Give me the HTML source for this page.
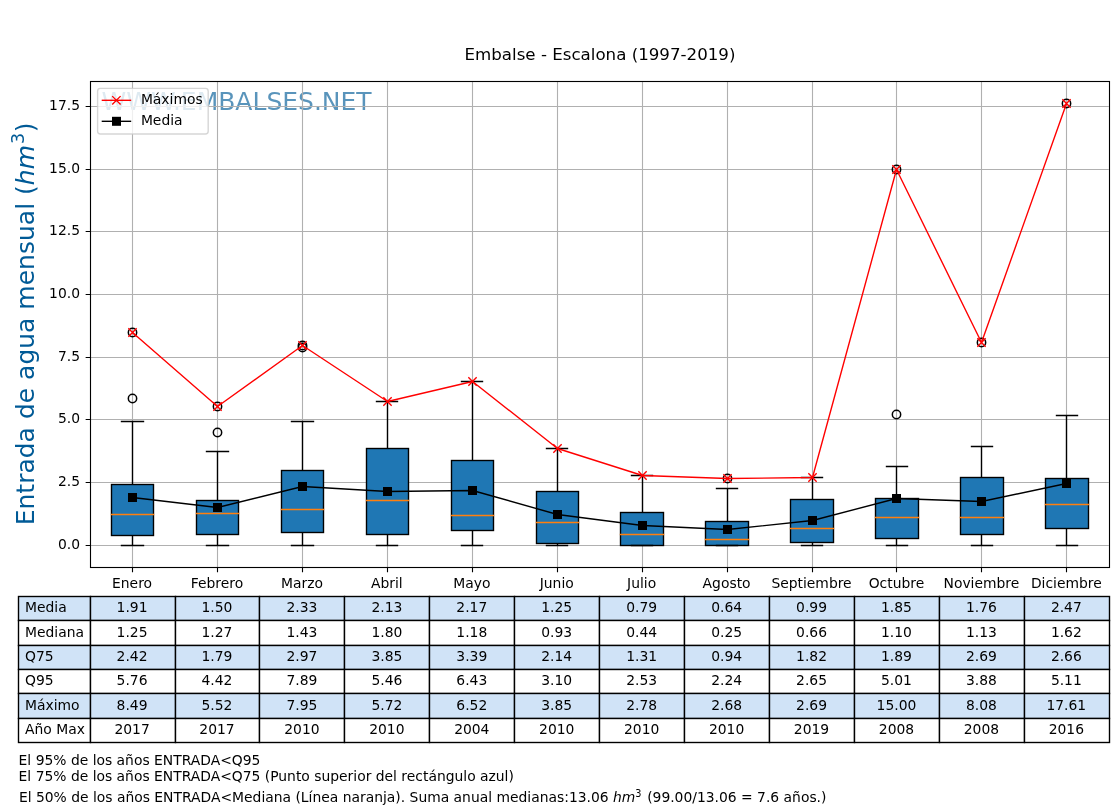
<!DOCTYPE html>
<html lang="es">
<head>
<meta charset="utf-8">
<title>Embalse - Escalona (1997-2019)</title>
<style>
html,body{margin:0;padding:0;background:#fff;}
body{width:1120px;height:810px;overflow:hidden;}
svg{display:block;will-change:transform;-webkit-font-smoothing:antialiased;}
text{white-space:pre;}
</style>
</head>
<body>
<svg width="1120" height="810" viewBox="0 0 1120 810" font-family='"DejaVu Sans", "Liberation Sans", sans-serif' font-size="13.89px" fill="#000">
<rect x="0" y="0" width="1120" height="810" fill="#fff"/>
<text x="101.6" y="109.9" font-size="25px" fill="#005a96" fill-opacity="0.65">WWW.EMBALSES.NET</text>
<path d="M132.5 81V567M217.5 81V567M302.5 81V567M387.5 81V567M472.5 81V567M557.5 81V567M642.5 81V567M727.5 81V567M812.5 81V567M896.5 81V567M981.5 81V567M1066.5 81V567M89.6 545.5H1108.8M89.6 482.5H1108.8M89.6 419.5H1108.8M89.6 357.5H1108.8M89.6 294.5H1108.8M89.6 231.5H1108.8M89.6 169.5H1108.8M89.6 106.5H1108.8" stroke="#b0b0b0" stroke-width="1.11" fill="none"/>
<rect x="111.5" y="484.5" width="42" height="51" fill="#1f77b4" stroke="#000" stroke-width="1.39"/>
<path d="M132.5 535.5V545.5M132.5 484.5V421.5" stroke="#000" stroke-width="1.39" fill="none"/>
<path d="M121.5 545.5H143.5M121.5 421.5H143.5" stroke="#000" stroke-width="1.39" fill="none" stroke-linecap="square"/>
<path d="M111.5 514.5H153.5" stroke="#ff7f0e" stroke-width="1.39" fill="none" stroke-linecap="square"/>
<circle cx="132.5" cy="398.5" r="4.17" fill="none" stroke="#000" stroke-width="1.5"/>
<circle cx="132.5" cy="332.5" r="4.17" fill="none" stroke="#000" stroke-width="1.5"/>
<rect x="196.5" y="500.5" width="42" height="34" fill="#1f77b4" stroke="#000" stroke-width="1.39"/>
<path d="M217.5 534.5V545.5M217.5 500.5V451.5" stroke="#000" stroke-width="1.39" fill="none"/>
<path d="M206.5 545.5H228.5M206.5 451.5H228.5" stroke="#000" stroke-width="1.39" fill="none" stroke-linecap="square"/>
<path d="M196.5 513.5H238.5" stroke="#ff7f0e" stroke-width="1.39" fill="none" stroke-linecap="square"/>
<circle cx="217.5" cy="432.5" r="4.17" fill="none" stroke="#000" stroke-width="1.5"/>
<circle cx="217.5" cy="406.5" r="4.17" fill="none" stroke="#000" stroke-width="1.5"/>
<rect x="281.5" y="470.5" width="42" height="62" fill="#1f77b4" stroke="#000" stroke-width="1.39"/>
<path d="M302.5 532.5V545.5M302.5 470.5V421.5" stroke="#000" stroke-width="1.39" fill="none"/>
<path d="M291.5 545.5H313.5M291.5 421.5H313.5" stroke="#000" stroke-width="1.39" fill="none" stroke-linecap="square"/>
<path d="M281.5 509.5H323.5" stroke="#ff7f0e" stroke-width="1.39" fill="none" stroke-linecap="square"/>
<circle cx="302.5" cy="347.5" r="4.17" fill="none" stroke="#000" stroke-width="1.5"/>
<circle cx="302.5" cy="345.5" r="4.17" fill="none" stroke="#000" stroke-width="1.5"/>
<rect x="366.5" y="448.5" width="42" height="86" fill="#1f77b4" stroke="#000" stroke-width="1.39"/>
<path d="M387.5 534.5V545.5M387.5 448.5V401.5" stroke="#000" stroke-width="1.39" fill="none"/>
<path d="M376.5 545.5H397.5M376.5 401.5H397.5" stroke="#000" stroke-width="1.39" fill="none" stroke-linecap="square"/>
<path d="M366.5 500.5H408.5" stroke="#ff7f0e" stroke-width="1.39" fill="none" stroke-linecap="square"/>
<rect x="451.5" y="460.5" width="42" height="70" fill="#1f77b4" stroke="#000" stroke-width="1.39"/>
<path d="M472.5 530.5V545.5M472.5 460.5V381.5" stroke="#000" stroke-width="1.39" fill="none"/>
<path d="M461.5 545.5H482.5M461.5 381.5H482.5" stroke="#000" stroke-width="1.39" fill="none" stroke-linecap="square"/>
<path d="M451.5 515.5H493.5" stroke="#ff7f0e" stroke-width="1.39" fill="none" stroke-linecap="square"/>
<rect x="536.5" y="491.5" width="42" height="52" fill="#1f77b4" stroke="#000" stroke-width="1.39"/>
<path d="M557.5 543.5V545.5M557.5 491.5V448.5" stroke="#000" stroke-width="1.39" fill="none"/>
<path d="M546.5 545.5H567.5M546.5 448.5H567.5" stroke="#000" stroke-width="1.39" fill="none" stroke-linecap="square"/>
<path d="M536.5 522.5H578.5" stroke="#ff7f0e" stroke-width="1.39" fill="none" stroke-linecap="square"/>
<rect x="620.5" y="512.5" width="43" height="33" fill="#1f77b4" stroke="#000" stroke-width="1.39"/>
<path d="M642.5 512.5V475.5" stroke="#000" stroke-width="1.39" fill="none"/>
<path d="M631.5 545.5H652.5M631.5 475.5H652.5" stroke="#000" stroke-width="1.39" fill="none" stroke-linecap="square"/>
<path d="M620.5 534.5H663.5" stroke="#ff7f0e" stroke-width="1.39" fill="none" stroke-linecap="square"/>
<rect x="705.5" y="521.5" width="43" height="24" fill="#1f77b4" stroke="#000" stroke-width="1.39"/>
<path d="M727.5 521.5V488.5" stroke="#000" stroke-width="1.39" fill="none"/>
<path d="M716.5 545.5H737.5M716.5 488.5H737.5" stroke="#000" stroke-width="1.39" fill="none" stroke-linecap="square"/>
<path d="M705.5 539.5H748.5" stroke="#ff7f0e" stroke-width="1.39" fill="none" stroke-linecap="square"/>
<circle cx="727.5" cy="478.5" r="4.17" fill="none" stroke="#000" stroke-width="1.5"/>
<rect x="790.5" y="499.5" width="43" height="43" fill="#1f77b4" stroke="#000" stroke-width="1.39"/>
<path d="M812.5 542.5V545.5M812.5 499.5V477.5" stroke="#000" stroke-width="1.39" fill="none"/>
<path d="M801.5 545.5H822.5M801.5 477.5H822.5" stroke="#000" stroke-width="1.39" fill="none" stroke-linecap="square"/>
<path d="M790.5 528.5H833.5" stroke="#ff7f0e" stroke-width="1.39" fill="none" stroke-linecap="square"/>
<rect x="875.5" y="498.5" width="43" height="40" fill="#1f77b4" stroke="#000" stroke-width="1.39"/>
<path d="M896.5 538.5V545.5M896.5 498.5V466.5" stroke="#000" stroke-width="1.39" fill="none"/>
<path d="M886.5 545.5H907.5M886.5 466.5H907.5" stroke="#000" stroke-width="1.39" fill="none" stroke-linecap="square"/>
<path d="M875.5 517.5H918.5" stroke="#ff7f0e" stroke-width="1.39" fill="none" stroke-linecap="square"/>
<circle cx="896.5" cy="414.5" r="4.17" fill="none" stroke="#000" stroke-width="1.5"/>
<circle cx="896.5" cy="169.5" r="4.17" fill="none" stroke="#000" stroke-width="1.5"/>
<rect x="960.5" y="477.5" width="43" height="57" fill="#1f77b4" stroke="#000" stroke-width="1.39"/>
<path d="M981.5 534.5V545.5M981.5 477.5V446.5" stroke="#000" stroke-width="1.39" fill="none"/>
<path d="M971.5 545.5H992.5M971.5 446.5H992.5" stroke="#000" stroke-width="1.39" fill="none" stroke-linecap="square"/>
<path d="M960.5 517.5H1003.5" stroke="#ff7f0e" stroke-width="1.39" fill="none" stroke-linecap="square"/>
<circle cx="981.5" cy="342.5" r="4.17" fill="none" stroke="#000" stroke-width="1.5"/>
<rect x="1045.5" y="478.5" width="43" height="50" fill="#1f77b4" stroke="#000" stroke-width="1.39"/>
<path d="M1066.5 528.5V545.5M1066.5 478.5V415.5" stroke="#000" stroke-width="1.39" fill="none"/>
<path d="M1056.5 545.5H1077.5M1056.5 415.5H1077.5" stroke="#000" stroke-width="1.39" fill="none" stroke-linecap="square"/>
<path d="M1045.5 504.5H1088.5" stroke="#ff7f0e" stroke-width="1.39" fill="none" stroke-linecap="square"/>
<circle cx="1066.5" cy="103.5" r="4.17" fill="none" stroke="#000" stroke-width="1.5"/>
<polyline points="132.5,332.5 217.5,406.5 302.5,345.5 387.5,401.5 472.5,381.5 557.5,448.5 642.5,475.5 727.5,478.5 812.5,477.5 896.5,169.5 981.5,342.5 1066.5,103.5" fill="none" stroke="#ff0000" stroke-width="1.39" stroke-linejoin="round"/>
<path d="M128.33 328.33L136.67 336.67M128.33 336.67L136.67 328.33M213.33 402.33L221.67 410.67M213.33 410.67L221.67 402.33M298.33 341.33L306.67 349.67M298.33 349.67L306.67 341.33M383.33 397.33L391.67 405.67M383.33 405.67L391.67 397.33M468.33 377.33L476.67 385.67M468.33 385.67L476.67 377.33M553.33 444.33L561.67 452.67M553.33 452.67L561.67 444.33M638.33 471.33L646.67 479.67M638.33 479.67L646.67 471.33M723.33 474.33L731.67 482.67M723.33 482.67L731.67 474.33M808.33 473.33L816.67 481.67M808.33 481.67L816.67 473.33M892.33 165.33L900.67 173.67M892.33 173.67L900.67 165.33M977.33 338.33L985.67 346.67M977.33 346.67L985.67 338.33M1062.33 99.33L1070.67 107.67M1062.33 107.67L1070.67 99.33" stroke="#ff0000" stroke-width="1.39" fill="none"/>
<polyline points="132.5,497.5 217.5,507.5 302.5,486.5 387.5,491.5 472.5,490.5 557.5,514.5 642.5,525.5 727.5,529.5 812.5,520.5 896.5,498.5 981.5,501.5 1066.5,483.5" fill="none" stroke="#000" stroke-width="1.39" stroke-linejoin="round"/>
<rect x="128" y="493" width="9" height="9" fill="#000"/>
<rect x="213" y="503" width="9" height="9" fill="#000"/>
<rect x="298" y="482" width="9" height="9" fill="#000"/>
<rect x="383" y="487" width="9" height="9" fill="#000"/>
<rect x="468" y="486" width="9" height="9" fill="#000"/>
<rect x="553" y="510" width="9" height="9" fill="#000"/>
<rect x="638" y="521" width="9" height="9" fill="#000"/>
<rect x="723" y="525" width="9" height="9" fill="#000"/>
<rect x="808" y="516" width="9" height="9" fill="#000"/>
<rect x="892" y="494" width="9" height="9" fill="#000"/>
<rect x="977" y="497" width="9" height="9" fill="#000"/>
<rect x="1062" y="479" width="9" height="9" fill="#000"/>
<rect x="90.5" y="81.5" width="1019" height="486" fill="none" stroke="#000" stroke-width="1.11" stroke-linecap="square"/>
<path d="M132.5 567.5v4.86M217.5 567.5v4.86M302.5 567.5v4.86M387.5 567.5v4.86M472.5 567.5v4.86M557.5 567.5v4.86M642.5 567.5v4.86M727.5 567.5v4.86M812.5 567.5v4.86M896.5 567.5v4.86M981.5 567.5v4.86M1066.5 567.5v4.86M90.5 545.5h-4.86M90.5 482.5h-4.86M90.5 419.5h-4.86M90.5 357.5h-4.86M90.5 294.5h-4.86M90.5 231.5h-4.86M90.5 169.5h-4.86M90.5 106.5h-4.86" stroke="#000" stroke-width="1.11" fill="none"/>
<text x="80.0" y="549.4" text-anchor="end">0.0</text>
<text x="80.0" y="486.4" text-anchor="end">2.5</text>
<text x="80.0" y="423.4" text-anchor="end">5.0</text>
<text x="80.0" y="361.4" text-anchor="end">7.5</text>
<text x="80.0" y="298.4" text-anchor="end">10.0</text>
<text x="80.0" y="235.4" text-anchor="end">12.5</text>
<text x="80.0" y="173.4" text-anchor="end">15.0</text>
<text x="80.0" y="110.4" text-anchor="end">17.5</text>
<text x="132.07" y="587.7" text-anchor="middle">Enero</text>
<text x="217" y="587.7" text-anchor="middle">Febrero</text>
<text x="301.93" y="587.7" text-anchor="middle">Marzo</text>
<text x="386.87" y="587.7" text-anchor="middle">Abril</text>
<text x="471.8" y="587.7" text-anchor="middle">Mayo</text>
<text x="556.73" y="587.7" text-anchor="middle">Junio</text>
<text x="641.67" y="587.7" text-anchor="middle">Julio</text>
<text x="726.6" y="587.7" text-anchor="middle">Agosto</text>
<text x="811.53" y="587.7" text-anchor="middle">Septiembre</text>
<text x="896.47" y="587.7" text-anchor="middle">Octubre</text>
<text x="981.4" y="587.7" text-anchor="middle">Noviembre</text>
<text x="1066.33" y="587.7" text-anchor="middle">Diciembre</text>
<text x="600" y="59.6" text-anchor="middle" font-size="16.67px">Embalse - Escalona (1997-2019)</text>
<text transform="translate(33.8 525.3) rotate(-90)" font-size="25px" fill="#005a96">Entrada de agua mensual (<tspan font-style="oblique">hm</tspan><tspan font-size="17.5px" dx="1" dy="-10.2">3</tspan><tspan dx="0.6" dy="10.2">)</tspan></text>
<rect x="97.6" y="88.4" width="110.6" height="45.6" rx="2.8" ry="2.8" fill="#fff" fill-opacity="0.8" stroke="#cccccc" stroke-opacity="0.8" stroke-width="1.39"/>
<path d="M101.7 100.3H131.2" stroke="#ff0000" stroke-width="1.39"/>
<path d="M112.23 96.13L120.57 104.47M112.23 104.47L120.57 96.13" stroke="#ff0000" stroke-width="1.39" fill="none"/>
<path d="M101.7 121.3H131.2" stroke="#000" stroke-width="1.39"/>
<rect x="112" y="116.8" width="9" height="9" fill="#000"/>
<text x="140.9" y="103.7">Máximos</text>
<text x="140.9" y="124.7">Media</text>
<rect x="18.5" y="596.5" width="72" height="24" fill="#d0e3f7" stroke="#000" stroke-width="1.39"/>
<rect x="90.5" y="596.5" width="85" height="24" fill="#d0e3f7" stroke="#000" stroke-width="1.39"/>
<rect x="175.5" y="596.5" width="84" height="24" fill="#d0e3f7" stroke="#000" stroke-width="1.39"/>
<rect x="259.5" y="596.5" width="85" height="24" fill="#d0e3f7" stroke="#000" stroke-width="1.39"/>
<rect x="344.5" y="596.5" width="85" height="24" fill="#d0e3f7" stroke="#000" stroke-width="1.39"/>
<rect x="429.5" y="596.5" width="85" height="24" fill="#d0e3f7" stroke="#000" stroke-width="1.39"/>
<rect x="514.5" y="596.5" width="85" height="24" fill="#d0e3f7" stroke="#000" stroke-width="1.39"/>
<rect x="599.5" y="596.5" width="85" height="24" fill="#d0e3f7" stroke="#000" stroke-width="1.39"/>
<rect x="684.5" y="596.5" width="85" height="24" fill="#d0e3f7" stroke="#000" stroke-width="1.39"/>
<rect x="769.5" y="596.5" width="85" height="24" fill="#d0e3f7" stroke="#000" stroke-width="1.39"/>
<rect x="854.5" y="596.5" width="85" height="24" fill="#d0e3f7" stroke="#000" stroke-width="1.39"/>
<rect x="939.5" y="596.5" width="85" height="24" fill="#d0e3f7" stroke="#000" stroke-width="1.39"/>
<rect x="1024.5" y="596.5" width="85" height="24" fill="#d0e3f7" stroke="#000" stroke-width="1.39"/>
<rect x="18.5" y="620.5" width="72" height="25" fill="#ffffff" stroke="#000" stroke-width="1.39"/>
<rect x="90.5" y="620.5" width="85" height="25" fill="#ffffff" stroke="#000" stroke-width="1.39"/>
<rect x="175.5" y="620.5" width="84" height="25" fill="#ffffff" stroke="#000" stroke-width="1.39"/>
<rect x="259.5" y="620.5" width="85" height="25" fill="#ffffff" stroke="#000" stroke-width="1.39"/>
<rect x="344.5" y="620.5" width="85" height="25" fill="#ffffff" stroke="#000" stroke-width="1.39"/>
<rect x="429.5" y="620.5" width="85" height="25" fill="#ffffff" stroke="#000" stroke-width="1.39"/>
<rect x="514.5" y="620.5" width="85" height="25" fill="#ffffff" stroke="#000" stroke-width="1.39"/>
<rect x="599.5" y="620.5" width="85" height="25" fill="#ffffff" stroke="#000" stroke-width="1.39"/>
<rect x="684.5" y="620.5" width="85" height="25" fill="#ffffff" stroke="#000" stroke-width="1.39"/>
<rect x="769.5" y="620.5" width="85" height="25" fill="#ffffff" stroke="#000" stroke-width="1.39"/>
<rect x="854.5" y="620.5" width="85" height="25" fill="#ffffff" stroke="#000" stroke-width="1.39"/>
<rect x="939.5" y="620.5" width="85" height="25" fill="#ffffff" stroke="#000" stroke-width="1.39"/>
<rect x="1024.5" y="620.5" width="85" height="25" fill="#ffffff" stroke="#000" stroke-width="1.39"/>
<rect x="18.5" y="645.5" width="72" height="24" fill="#d0e3f7" stroke="#000" stroke-width="1.39"/>
<rect x="90.5" y="645.5" width="85" height="24" fill="#d0e3f7" stroke="#000" stroke-width="1.39"/>
<rect x="175.5" y="645.5" width="84" height="24" fill="#d0e3f7" stroke="#000" stroke-width="1.39"/>
<rect x="259.5" y="645.5" width="85" height="24" fill="#d0e3f7" stroke="#000" stroke-width="1.39"/>
<rect x="344.5" y="645.5" width="85" height="24" fill="#d0e3f7" stroke="#000" stroke-width="1.39"/>
<rect x="429.5" y="645.5" width="85" height="24" fill="#d0e3f7" stroke="#000" stroke-width="1.39"/>
<rect x="514.5" y="645.5" width="85" height="24" fill="#d0e3f7" stroke="#000" stroke-width="1.39"/>
<rect x="599.5" y="645.5" width="85" height="24" fill="#d0e3f7" stroke="#000" stroke-width="1.39"/>
<rect x="684.5" y="645.5" width="85" height="24" fill="#d0e3f7" stroke="#000" stroke-width="1.39"/>
<rect x="769.5" y="645.5" width="85" height="24" fill="#d0e3f7" stroke="#000" stroke-width="1.39"/>
<rect x="854.5" y="645.5" width="85" height="24" fill="#d0e3f7" stroke="#000" stroke-width="1.39"/>
<rect x="939.5" y="645.5" width="85" height="24" fill="#d0e3f7" stroke="#000" stroke-width="1.39"/>
<rect x="1024.5" y="645.5" width="85" height="24" fill="#d0e3f7" stroke="#000" stroke-width="1.39"/>
<rect x="18.5" y="669.5" width="72" height="24" fill="#ffffff" stroke="#000" stroke-width="1.39"/>
<rect x="90.5" y="669.5" width="85" height="24" fill="#ffffff" stroke="#000" stroke-width="1.39"/>
<rect x="175.5" y="669.5" width="84" height="24" fill="#ffffff" stroke="#000" stroke-width="1.39"/>
<rect x="259.5" y="669.5" width="85" height="24" fill="#ffffff" stroke="#000" stroke-width="1.39"/>
<rect x="344.5" y="669.5" width="85" height="24" fill="#ffffff" stroke="#000" stroke-width="1.39"/>
<rect x="429.5" y="669.5" width="85" height="24" fill="#ffffff" stroke="#000" stroke-width="1.39"/>
<rect x="514.5" y="669.5" width="85" height="24" fill="#ffffff" stroke="#000" stroke-width="1.39"/>
<rect x="599.5" y="669.5" width="85" height="24" fill="#ffffff" stroke="#000" stroke-width="1.39"/>
<rect x="684.5" y="669.5" width="85" height="24" fill="#ffffff" stroke="#000" stroke-width="1.39"/>
<rect x="769.5" y="669.5" width="85" height="24" fill="#ffffff" stroke="#000" stroke-width="1.39"/>
<rect x="854.5" y="669.5" width="85" height="24" fill="#ffffff" stroke="#000" stroke-width="1.39"/>
<rect x="939.5" y="669.5" width="85" height="24" fill="#ffffff" stroke="#000" stroke-width="1.39"/>
<rect x="1024.5" y="669.5" width="85" height="24" fill="#ffffff" stroke="#000" stroke-width="1.39"/>
<rect x="18.5" y="693.5" width="72" height="25" fill="#d0e3f7" stroke="#000" stroke-width="1.39"/>
<rect x="90.5" y="693.5" width="85" height="25" fill="#d0e3f7" stroke="#000" stroke-width="1.39"/>
<rect x="175.5" y="693.5" width="84" height="25" fill="#d0e3f7" stroke="#000" stroke-width="1.39"/>
<rect x="259.5" y="693.5" width="85" height="25" fill="#d0e3f7" stroke="#000" stroke-width="1.39"/>
<rect x="344.5" y="693.5" width="85" height="25" fill="#d0e3f7" stroke="#000" stroke-width="1.39"/>
<rect x="429.5" y="693.5" width="85" height="25" fill="#d0e3f7" stroke="#000" stroke-width="1.39"/>
<rect x="514.5" y="693.5" width="85" height="25" fill="#d0e3f7" stroke="#000" stroke-width="1.39"/>
<rect x="599.5" y="693.5" width="85" height="25" fill="#d0e3f7" stroke="#000" stroke-width="1.39"/>
<rect x="684.5" y="693.5" width="85" height="25" fill="#d0e3f7" stroke="#000" stroke-width="1.39"/>
<rect x="769.5" y="693.5" width="85" height="25" fill="#d0e3f7" stroke="#000" stroke-width="1.39"/>
<rect x="854.5" y="693.5" width="85" height="25" fill="#d0e3f7" stroke="#000" stroke-width="1.39"/>
<rect x="939.5" y="693.5" width="85" height="25" fill="#d0e3f7" stroke="#000" stroke-width="1.39"/>
<rect x="1024.5" y="693.5" width="85" height="25" fill="#d0e3f7" stroke="#000" stroke-width="1.39"/>
<rect x="18.5" y="718.5" width="72" height="24" fill="#ffffff" stroke="#000" stroke-width="1.39"/>
<rect x="90.5" y="718.5" width="85" height="24" fill="#ffffff" stroke="#000" stroke-width="1.39"/>
<rect x="175.5" y="718.5" width="84" height="24" fill="#ffffff" stroke="#000" stroke-width="1.39"/>
<rect x="259.5" y="718.5" width="85" height="24" fill="#ffffff" stroke="#000" stroke-width="1.39"/>
<rect x="344.5" y="718.5" width="85" height="24" fill="#ffffff" stroke="#000" stroke-width="1.39"/>
<rect x="429.5" y="718.5" width="85" height="24" fill="#ffffff" stroke="#000" stroke-width="1.39"/>
<rect x="514.5" y="718.5" width="85" height="24" fill="#ffffff" stroke="#000" stroke-width="1.39"/>
<rect x="599.5" y="718.5" width="85" height="24" fill="#ffffff" stroke="#000" stroke-width="1.39"/>
<rect x="684.5" y="718.5" width="85" height="24" fill="#ffffff" stroke="#000" stroke-width="1.39"/>
<rect x="769.5" y="718.5" width="85" height="24" fill="#ffffff" stroke="#000" stroke-width="1.39"/>
<rect x="854.5" y="718.5" width="85" height="24" fill="#ffffff" stroke="#000" stroke-width="1.39"/>
<rect x="939.5" y="718.5" width="85" height="24" fill="#ffffff" stroke="#000" stroke-width="1.39"/>
<rect x="1024.5" y="718.5" width="85" height="24" fill="#ffffff" stroke="#000" stroke-width="1.39"/>
<text x="25.0" y="612.41">Media</text>
<text x="132.07" y="612.41" text-anchor="middle">1.91</text>
<text x="217" y="612.41" text-anchor="middle">1.50</text>
<text x="301.93" y="612.41" text-anchor="middle">2.33</text>
<text x="386.87" y="612.41" text-anchor="middle">2.13</text>
<text x="471.8" y="612.41" text-anchor="middle">2.17</text>
<text x="556.73" y="612.41" text-anchor="middle">1.25</text>
<text x="641.67" y="612.41" text-anchor="middle">0.79</text>
<text x="726.6" y="612.41" text-anchor="middle">0.64</text>
<text x="811.53" y="612.41" text-anchor="middle">0.99</text>
<text x="896.47" y="612.41" text-anchor="middle">1.85</text>
<text x="981.4" y="612.41" text-anchor="middle">1.76</text>
<text x="1066.33" y="612.41" text-anchor="middle">2.47</text>
<text x="25.0" y="636.71">Mediana</text>
<text x="132.07" y="636.71" text-anchor="middle">1.25</text>
<text x="217" y="636.71" text-anchor="middle">1.27</text>
<text x="301.93" y="636.71" text-anchor="middle">1.43</text>
<text x="386.87" y="636.71" text-anchor="middle">1.80</text>
<text x="471.8" y="636.71" text-anchor="middle">1.18</text>
<text x="556.73" y="636.71" text-anchor="middle">0.93</text>
<text x="641.67" y="636.71" text-anchor="middle">0.44</text>
<text x="726.6" y="636.71" text-anchor="middle">0.25</text>
<text x="811.53" y="636.71" text-anchor="middle">0.66</text>
<text x="896.47" y="636.71" text-anchor="middle">1.10</text>
<text x="981.4" y="636.71" text-anchor="middle">1.13</text>
<text x="1066.33" y="636.71" text-anchor="middle">1.62</text>
<text x="25.0" y="661.01">Q75</text>
<text x="132.07" y="661.01" text-anchor="middle">2.42</text>
<text x="217" y="661.01" text-anchor="middle">1.79</text>
<text x="301.93" y="661.01" text-anchor="middle">2.97</text>
<text x="386.87" y="661.01" text-anchor="middle">3.85</text>
<text x="471.8" y="661.01" text-anchor="middle">3.39</text>
<text x="556.73" y="661.01" text-anchor="middle">2.14</text>
<text x="641.67" y="661.01" text-anchor="middle">1.31</text>
<text x="726.6" y="661.01" text-anchor="middle">0.94</text>
<text x="811.53" y="661.01" text-anchor="middle">1.82</text>
<text x="896.47" y="661.01" text-anchor="middle">1.89</text>
<text x="981.4" y="661.01" text-anchor="middle">2.69</text>
<text x="1066.33" y="661.01" text-anchor="middle">2.66</text>
<text x="25.0" y="685.31">Q95</text>
<text x="132.07" y="685.31" text-anchor="middle">5.76</text>
<text x="217" y="685.31" text-anchor="middle">4.42</text>
<text x="301.93" y="685.31" text-anchor="middle">7.89</text>
<text x="386.87" y="685.31" text-anchor="middle">5.46</text>
<text x="471.8" y="685.31" text-anchor="middle">6.43</text>
<text x="556.73" y="685.31" text-anchor="middle">3.10</text>
<text x="641.67" y="685.31" text-anchor="middle">2.53</text>
<text x="726.6" y="685.31" text-anchor="middle">2.24</text>
<text x="811.53" y="685.31" text-anchor="middle">2.65</text>
<text x="896.47" y="685.31" text-anchor="middle">5.01</text>
<text x="981.4" y="685.31" text-anchor="middle">3.88</text>
<text x="1066.33" y="685.31" text-anchor="middle">5.11</text>
<text x="25.0" y="709.61">Máximo</text>
<text x="132.07" y="709.61" text-anchor="middle">8.49</text>
<text x="217" y="709.61" text-anchor="middle">5.52</text>
<text x="301.93" y="709.61" text-anchor="middle">7.95</text>
<text x="386.87" y="709.61" text-anchor="middle">5.72</text>
<text x="471.8" y="709.61" text-anchor="middle">6.52</text>
<text x="556.73" y="709.61" text-anchor="middle">3.85</text>
<text x="641.67" y="709.61" text-anchor="middle">2.78</text>
<text x="726.6" y="709.61" text-anchor="middle">2.68</text>
<text x="811.53" y="709.61" text-anchor="middle">2.69</text>
<text x="896.47" y="709.61" text-anchor="middle">15.00</text>
<text x="981.4" y="709.61" text-anchor="middle">8.08</text>
<text x="1066.33" y="709.61" text-anchor="middle">17.61</text>
<text x="25.0" y="733.91">Año Max</text>
<text x="132.07" y="733.91" text-anchor="middle">2017</text>
<text x="217" y="733.91" text-anchor="middle">2017</text>
<text x="301.93" y="733.91" text-anchor="middle">2010</text>
<text x="386.87" y="733.91" text-anchor="middle">2010</text>
<text x="471.8" y="733.91" text-anchor="middle">2004</text>
<text x="556.73" y="733.91" text-anchor="middle">2010</text>
<text x="641.67" y="733.91" text-anchor="middle">2010</text>
<text x="726.6" y="733.91" text-anchor="middle">2010</text>
<text x="811.53" y="733.91" text-anchor="middle">2019</text>
<text x="896.47" y="733.91" text-anchor="middle">2008</text>
<text x="981.4" y="733.91" text-anchor="middle">2008</text>
<text x="1066.33" y="733.91" text-anchor="middle">2016</text>
<text x="18.6" y="764.5">El 95% de los años ENTRADA&lt;Q95</text>
<text x="18.6" y="780.6">El 75% de los años ENTRADA&lt;Q75 (Punto superior del rectángulo azul)</text>
<text x="18.9" y="802.0">El 50% de los años ENTRADA&lt;Mediana (Línea naranja). Suma anual medianas:13.06 <tspan font-style="oblique">hm</tspan><tspan font-size="9.72px" dy="-5.2">3</tspan><tspan dx="1.2" dy="5.2"> (99.00/13.06 = 7.6 años.)</tspan></text>
</svg>
</body>
</html>
